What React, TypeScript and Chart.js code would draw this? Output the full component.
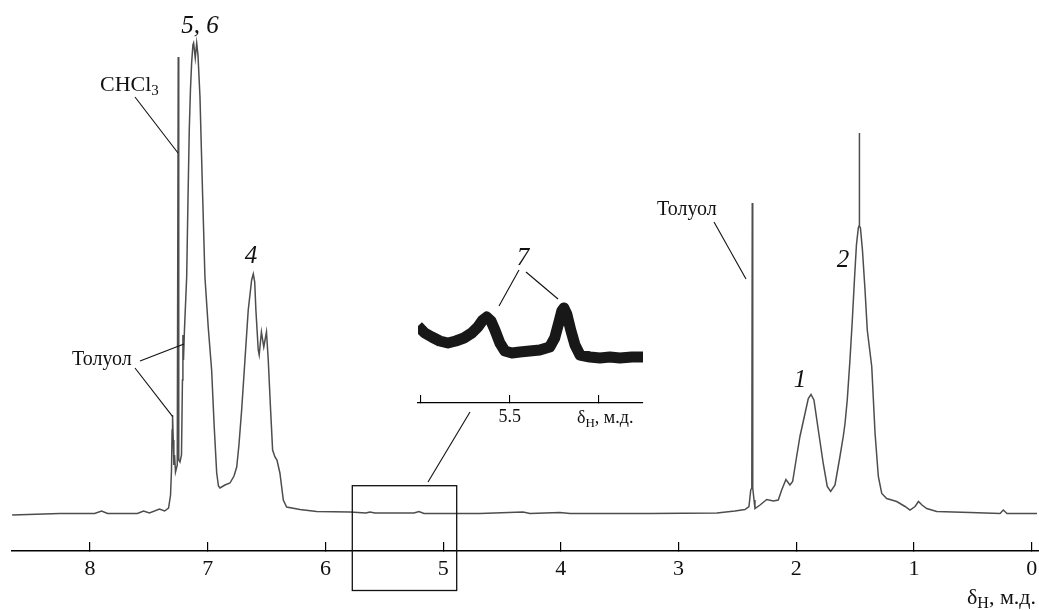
import React, { useEffect, useRef } from 'react';
import { Chart, registerables } from 'chart.js';

Chart.register(...registerables);

// ---- Main spectrum (chemical shift, ppm) and intensity (a.u.) ----
const shifts = [
  8.662, 8.256, 7.961, 7.902, 7.851, 7.597, 7.546, 7.495, 7.41, 7.367, 7.333, 7.316, 7.308, 7.303, 7.299,
  7.293, 7.288, 7.282, 7.274, 7.259, 7.2549, 7.2507, 7.2464, 7.236, 7.223, 7.215, 7.211, 7.206, 7.198,
  7.179, 7.168, 7.157, 7.147, 7.137, 7.126, 7.12, 7.106, 7.094, 7.083, 7.066, 7.054, 7.043, 7.024, 6.996,
  6.967, 6.945, 6.924, 6.909, 6.896, 6.854, 6.811, 6.777, 6.754, 6.735, 6.712, 6.684, 6.656, 6.627, 6.613,
  6.601, 6.591, 6.571, 6.563, 6.544, 6.524, 6.501, 6.486, 6.466, 6.449, 6.429, 6.412, 6.387, 6.358, 6.33,
  6.217, 6.075, 5.792, 5.656, 5.622, 5.579, 5.248, 5.206, 5.163, 4.687, 4.322, 4.262, 4.008, 3.923, 3.243,
  2.674, 2.521, 2.436, 2.402, 2.387, 2.378, 2.374, 2.37, 2.359, 2.351, 2.308, 2.251, 2.195, 2.153, 2.124,
  2.088, 2.054, 2.031, 1.997, 1.969, 1.926, 1.898, 1.875, 1.85, 1.813, 1.771, 1.737, 1.708, 1.671, 1.629,
  1.601, 1.586, 1.567, 1.544, 1.524, 1.506, 1.489, 1.473, 1.467, 1.465, 1.462, 1.455, 1.438, 1.416, 1.397,
  1.359, 1.331, 1.303, 1.274, 1.232, 1.147, 1.076, 1.034, 0.991, 0.962, 0.932, 0.892, 0.807, 0.524, 0.269,
  0.241, 0.21, -0.045,
];
const intensities = [
  -0.2, 0.1, 0.1, 0.6, 0.1, 0.1, 0.6, 0.2, 1.0, 0.6, 1.2, 3.8, 8.8, 16.8, 19.8,
  14.8, 9.8, 11.8, 8.4, 9.8, 9.8, 91.4, 10.8, 10.4, 11.8, 26.8, 35.8, 30.8, 36.8,
  47.4, 62.8, 76.8, 84.8, 90.2, 93.8, 94.2, 91.2, 94.2, 91.8, 83.4, 72.8, 63.4, 47.4, 37.4,
  28.8, 17.4, 8.2, 5.6, 5.2, 5.8, 6.2, 7.6, 9.4, 13.8, 20.8, 30.8, 40.8, 46.8, 48.0,
  46.4, 40.8, 32.8, 31.8, 36.4, 33.4, 36.4, 30.8, 20.8, 12.8, 11.4, 10.8, 8.2, 2.8, 1.4,
  0.9, 0.5, 0.4, 0.2, 0.4, 0.2, 0.2, 0.5, 0.1, 0.1, 0.4, 0.1, 0.3, 0.1, 0.1,
  0.2, 0.6, 0.9, 1.5, 4.8, 5.2, 62.2, 5.2, 2.8, 1.1, 1.8, 2.9, 2.6, 2.8, 4.8,
  6.9, 5.8, 6.5, 11.5, 15.5, 20.1, 23.1, 23.9, 22.8, 16.8, 10.1, 5.5, 4.5, 5.8, 11.5,
  15.5, 18.1, 22.8, 30.8, 38.8, 46.8, 53.8, 57.2, 57.6, 76.2, 57.6, 57.2, 52.8, 44.8, 36.8,
  29.5, 16.2, 7.5, 4.1, 3.1, 2.5, 1.5, 0.8, 1.5, 2.5, 1.8, 1.1, 0.5, 0.3, 0.1,
  0.8, 0.1, 0.1,
];
const axisTicks = [0, 1, 2, 3, 4, 5, 6, 7, 8];
const zoomBoxShifts = [5.772, 4.885];
const zoomBoxValues = [5.66, -15.3];

// ---- Inset: magnified 5.8–5.1 ppm region ----
const insetShifts = [
  5.758, 5.739, 5.719, 5.697, 5.674, 5.652, 5.629, 5.607, 5.59, 5.576, 5.565, 5.553, 5.542, 5.528, 5.514,
  5.494, 5.472, 5.444, 5.416, 5.388, 5.374, 5.362, 5.354, 5.348, 5.34, 5.329, 5.317, 5.303, 5.275, 5.247,
  5.219, 5.191, 5.157, 5.126,
];
const insetIntensities = [
  34, 27, 23, 19, 17, 19, 22, 27, 33, 40, 43, 39, 30, 17, 9,
  7, 8, 9, 10, 13, 22, 38, 49, 52, 46, 30, 15, 5, 3, 2,
  3, 2, 3, 3,
];
const insetTicks = [5.25, 5.5, 5.75];
const insetLabelled = [5.5];

const SERIF = '"Liberation Serif", "Times New Roman", serif';
const INK = '#111';

type Run = [string, number, number]; // text, font size, baseline shift

function runsWidth(ctx: CanvasRenderingContext2D, runs: Run[]) {
  let w = 0;
  for (const [t, s] of runs) {
    ctx.font = `${s}px ${SERIF}`;
    w += ctx.measureText(t).width;
  }
  return w;
}
function drawRuns(ctx: CanvasRenderingContext2D, runs: Run[], x: number, y: number, align: 'left' | 'right' = 'left') {
  let cx = align === 'right' ? x - runsWidth(ctx, runs) : x;
  ctx.textAlign = 'left';
  ctx.textBaseline = 'alphabetic';
  for (const [t, s, dy] of runs) {
    ctx.font = `${s}px ${SERIF}`;
    ctx.fillText(t, cx, y + dy);
    cx += ctx.measureText(t).width;
  }
}
function line(ctx: CanvasRenderingContext2D, x1: number, y1: number, x2: number, y2: number) {
  ctx.beginPath();
  ctx.moveTo(x1, y1);
  ctx.lineTo(x2, y2);
  ctx.stroke();
}

const mainAnnotations = {
  id: 'mainAnnotations',
  afterDraw(chart: any) {
    const ctx: CanvasRenderingContext2D = chart.ctx;
    const xs = chart.scales.x;
    const ys = chart.scales.y;
    ctx.save();
    ctx.fillStyle = INK;
    ctx.strokeStyle = INK;

    // italic peak numbers
    ctx.font = `italic 25px ${SERIF}`;
    ctx.textAlign = 'center';
    ctx.textBaseline = 'alphabetic';
    ctx.fillText('5, 6', 200, 33);
    ctx.fillText('4', 251, 263);
    ctx.fillText('1', 800, 387);
    ctx.fillText('2', 843, 267);
    ctx.fillText('7', 523, 265);

    // labels
    drawRuns(ctx, [['CHCl', 22, 0], ['3', 15, 4]], 100, 91);
    drawRuns(ctx, [['Толуол', 20, 0]], 72, 365);
    drawRuns(ctx, [['Толуол', 20, 0]], 657, 215);

    // leader lines
    ctx.lineWidth = 1.1;
    line(ctx, 135, 97, 178, 153);
    line(ctx, 140, 361, 184, 344);
    line(ctx, 135, 368, 172.7, 416.7);
    line(ctx, 714, 222, 746, 279);
    line(ctx, 519, 270, 499, 306);
    line(ctx, 526, 272, 558, 299);
    line(ctx, 470, 412, 428, 482);

    // zoom box
    const bx1 = xs.getPixelForValue(zoomBoxShifts[0]);
    const bx2 = xs.getPixelForValue(zoomBoxShifts[1]);
    const by1 = ys.getPixelForValue(zoomBoxValues[0]);
    const by2 = ys.getPixelForValue(zoomBoxValues[1]);
    ctx.lineWidth = 1.3;
    ctx.strokeRect(bx1, by1, bx2 - bx1, by2 - by1);

    // axis title
    drawRuns(ctx, [['δ', 22, 0], ['H', 16, 4], [', м.д.', 22, 0]], 1036, 604, 'right');
    ctx.restore();
  },
};

const insetAnnotations = {
  id: 'insetAnnotations',
  afterDraw(chart: any) {
    const ctx: CanvasRenderingContext2D = chart.ctx;
    ctx.save();
    ctx.fillStyle = INK;
    drawRuns(ctx, [['δ', 18, 0], ['H', 13, 4], [', м.д.', 18, 0]], 169, 133);
    ctx.restore();
  },
};

export default function App() {
  const mainRef = useRef<HTMLCanvasElement | null>(null);
  const insetRef = useRef<HTMLCanvasElement | null>(null);

  useEffect(() => {
    const main = new Chart(mainRef.current as HTMLCanvasElement, {
      type: 'line',
      data: {
        datasets: [
          {
            data: shifts.map((x, i) => ({ x, y: intensities[i] })),
            borderColor: '#4d4d4d',
            borderWidth: 1.5,
            pointRadius: 0,
            tension: 0,
            fill: false,
          },
        ],
      },
      options: {
        animation: false,
        responsive: false,
        maintainAspectRatio: false,
        layout: { padding: { left: 12, right: 0, top: 0, bottom: 0 } },
        plugins: { legend: { display: false }, tooltip: { enabled: false } },
        scales: {
          x: {
            type: 'linear',
            reverse: true,
            min: -0.062,
            max: 8.663,
            afterFit: (s: any) => {
              s.height = 59;
            },
            afterBuildTicks: (s: any) => {
              s.ticks = axisTicks.map((v) => ({ value: v }));
            },
            grid: { drawOnChartArea: false, drawTicks: true, tickLength: -9, color: '#000', lineWidth: 1.2 },
            border: { display: true, color: '#000', width: 1.5 },
            ticks: {
              autoSkip: false,
              maxRotation: 0,
              padding: 14,
              color: INK,
              font: { family: SERIF, size: 22 },
              callback: (v: any) => String(v),
            },
          },
          y: { display: false, min: -7.4, max: 102.8 },
        },
      },
      plugins: [mainAnnotations],
    } as any);

    const inset = new Chart(insetRef.current as HTMLCanvasElement, {
      type: 'line',
      data: {
        datasets: [
          {
            data: insetShifts.map((x, i) => ({ x, y: insetIntensities[i] })),
            borderColor: '#181818',
            borderWidth: 11,
            borderJoinStyle: 'round',
            pointRadius: 0,
            tension: 0,
            fill: false,
          },
        ],
      },
      options: {
        animation: false,
        responsive: false,
        maintainAspectRatio: false,
        layout: { padding: { left: 10, right: 5, top: 0, bottom: 0 } },
        plugins: { legend: { display: false }, tooltip: { enabled: false } },
        scales: {
          x: {
            type: 'linear',
            reverse: true,
            min: 5.126,
            max: 5.758,
            afterFit: (s: any) => {
              s.height = 27;
            },
            afterBuildTicks: (s: any) => {
              s.ticks = insetTicks.map((v) => ({ value: v }));
            },
            grid: { drawOnChartArea: false, drawTicks: true, tickLength: -8, color: '#000', lineWidth: 1.1 },
            border: { display: true, color: '#000', width: 1.3 },
            ticks: {
              autoSkip: false,
              maxRotation: 0,
              padding: 11,
              color: INK,
              font: { family: SERIF, size: 18 },
              callback: (v: any) => (insetLabelled.includes(v) ? String(v) : ''),
            },
          },
          y: { display: false, min: -43, max: 70 },
        },
      },
      plugins: [insetAnnotations],
    } as any);

    return () => {
      main.destroy();
      inset.destroy();
    };
  }, []);

  return (
    <div style={{ position: 'fixed', left: 0, top: 0, width: 1039, height: 610, background: '#fff', overflow: 'hidden' }}>
      <canvas ref={mainRef} width={1039} height={610} style={{ position: 'absolute', left: 0, top: 0, display: 'block' }} />
      <canvas ref={insetRef} width={240} height={140} style={{ position: 'absolute', left: 408, top: 290, display: 'block' }} />
    </div>
  );
}
